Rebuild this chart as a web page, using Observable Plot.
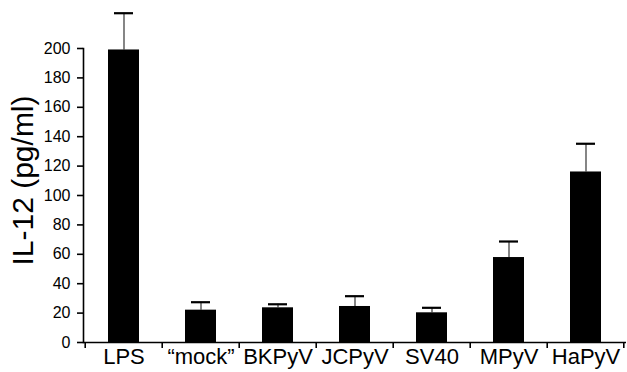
<!DOCTYPE html>
<html><head><meta charset="utf-8">
<script src="https://cdn.jsdelivr.net/npm/d3@7"></script>
<script src="https://cdn.jsdelivr.net/npm/@observablehq/plot@0.6"></script>
<style>body{margin:0;background:#fff;} svg{display:block;}</style>
</head><body>
<div id="chart"></div>
<script>
const categories = ["LPS", "\u201Cmock\u201D", "BKPyV", "JCPyV", "SV40", "MPyV", "HaPyV"];
const means = [199, 22, 23.6, 24.5, 20.2, 57.8, 116];
const upper = [224, 27.4, 26, 31.5, 23.6, 68.7, 135.2];
const yTicks = [0, 20, 40, 60, 80, 100, 120, 140, 160, 180, 200];
const yLabel = "IL-12 (pg/ml)";

const data = categories.map((c, i) => ({cat: c, value: means[i], upper: upper[i]}));
const W = 627, H = 372, ML = 83, MR = 1;
const step = (W - ML - MR) / categories.length;
const lastCat = categories[categories.length - 1];

const plot = Plot.plot({
  width: W, height: H,
  marginLeft: ML, marginRight: MR, marginTop: 48, marginBottom: 30,
  style: {fontFamily: "'Liberation Sans', Arial, sans-serif", color: "#000", background: "#fff", overflow: "visible"},
  x: {domain: categories, paddingInner: 0.6, paddingOuter: 0.3, label: null},
  y: {domain: [0, 200], label: null},
  marks: [
    Plot.ruleX(data, {x: "cat", y1: "value", y2: "upper", stroke: "#444", strokeWidth: 1.3}),
    Plot.tickY(data, {x: "cat", y: "upper", stroke: "#000", strokeWidth: 2.2, insetLeft: 6, insetRight: 6}),
    Plot.barY(data, {x: "cat", y: "value", fill: "#000"}),
    Plot.ruleY([0], {stroke: "#000", strokeWidth: 1.6}),
    Plot.frame({anchor: "left", stroke: "#000", strokeWidth: 1.6}),
    Plot.ruleX(categories, {x: d => d, dx: -step / 2, y1: 0, y2: 0, insetBottom: -6, stroke: "#000", strokeWidth: 1.6}),
    Plot.ruleX([lastCat], {x: d => d, dx: step / 2 - 1, y1: 0, y2: 0, insetBottom: -6, stroke: "#000", strokeWidth: 1.6}),
    Plot.axisY({ticks: yTicks, tickSize: 6, tickPadding: 7, fontSize: 16, label: null, stroke: "#000", strokeWidth: 1.6}),
    Plot.axisX({tickSize: 0, tickPadding: 6, fontSize: 22, label: null}),
    Plot.text([yLabel], {frameAnchor: "left", textAnchor: "middle", rotate: -90, dx: -60, dy: -15, fontSize: 30, fill: "#000"})
  ]
});
document.getElementById("chart").appendChild(plot);
</script>
</body></html>
